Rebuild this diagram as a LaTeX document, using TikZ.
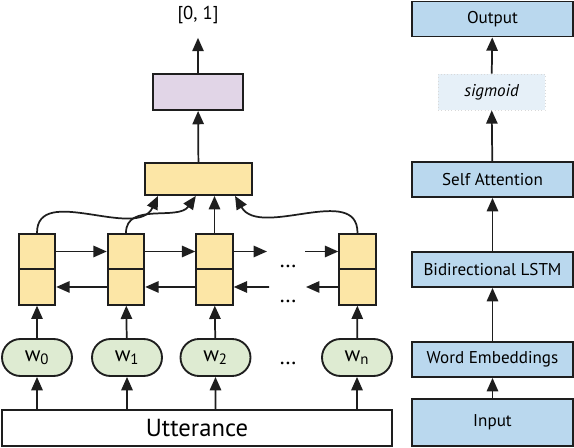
\documentclass[tikz,border=0pt]{standalone}
\usepackage{fontspec}
\setmainfont{PT Sans}
\usetikzlibrary{arrows.meta, shapes.misc}
\usepackage{xcolor}
\definecolor{myellow}{RGB}{252,230,166}
\definecolor{mpurple}{RGB}{225,213,231}
\definecolor{mgreen}{RGB}{222,235,210}
\definecolor{mblue}{RGB}{186,216,238}
\definecolor{mpale}{RGB}{230,240,248}
\definecolor{mline}{RGB}{30,30,30}

\begin{document}
\begin{tikzpicture}[x=0.75pt, y=-0.75pt,
    box/.style={draw=mline, line width=1.4pt, inner sep=0pt},
    cell/.style={box, fill=myellow, minimum width=27.4pt, minimum height=26.6pt, node distance=26.6pt},
    word/.style={box, rounded rectangle, fill=mgreen, minimum width=52.5pt, minimum height=27.75pt,
                 font=\fontsize{16}{19}\selectfont},
    layer/.style={box, fill=mblue, minimum width=120.75pt, minimum height=26.25pt,
                  font=\fontsize{12.8}{15}\selectfont},
    sigbox/.style={fill=mpale, draw=black!15, dotted, line width=0.5pt, minimum width=80.25pt,
                   minimum height=27pt, font=\fontsize{12.8}{15}\selectfont\itshape},
    dots/.style={anchor=base, font=\fontsize{17}{19}\selectfont},
    arrow/.style={-{Triangle[length=10pt,width=8.5pt]}, line width=1.3pt, mline},
]
\useasboundingbox (0,0) rectangle (574,448);

% left: the network
\node[box, minimum width=292.5pt, minimum height=27pt, font=\fontsize{18.5}{21}\selectfont] (utt) at (197,428) {Utterance};

\node[word] (w0) at (37,357.5) {w\textsubscript{0}};
\node[word] (w1) at (127,357.5) {w\textsubscript{1}};
\node[word] (w2) at (215.5,357.5) {w\textsubscript{2}};
\node[word] (wn) at (357,357.5) {w\textsubscript{n}};
\node[dots] (wdots) at (288,365) {\dots};

\node[cell] (c0f) at (37,251.5) {};
\node[cell, below of=c0f] (c0b) {};
\node[cell] (c1f) at (126,251.5) {};
\node[cell, below of=c1f] (c1b) {};
\node[cell] (c2f) at (214.5,251.5) {};
\node[cell, below of=c2f] (c2b) {};
\node[cell] (cnf) at (357.5,251.5) {};
\node[cell, below of=cnf] (cnb) {};
\node[dots] (fdots) at (288,268) {\dots};
\node[dots] (bdots) at (288,303) {\dots};

\node[box, fill=myellow, minimum width=80.25pt, minimum height=24pt] (att) at (198.5,179) {};
\node[box, fill=mpurple, minimum width=67.5pt, minimum height=27pt] (cls) at (198,92) {};
\node[font=\fontsize{14}{17}\selectfont] (score) at (198,15) {[0, 1]};

\coordinate (fwdend) at (267,251.5);
\coordinate (fwdstart) at (305,251.5);
\coordinate (bwdstart) at (269,287);
\coordinate (bwdend) at (306,287);

\draw[arrow] (utt.north -| w0) -- (w0);
\draw[arrow] (utt.north -| w1) -- (w1);
\draw[arrow] (utt.north -| w2) -- (w2);
\draw[arrow] (utt.north -| wn) -- (wn);

\draw[arrow] (w0) -- (c0b);
\draw[arrow] (w1) -- (c1b);
\draw[arrow] (w2) -- (c2b);
\draw[arrow] (wn) -- (cnb);

\draw[arrow] (c0f) -- (c1f);
\draw[arrow] (c1f) -- (c2f);
\draw[arrow] (c2f) -- (fwdend);
\draw[arrow] (fwdstart) -- (cnf);

\draw[arrow] (c1b) -- (c0b);
\draw[arrow] (c2b) -- (c1b);
\draw[arrow] (bwdstart) -- (c2b);
\draw[arrow] (cnb) -- (bwdend);

\draw[arrow] (c0f.north) to[out=90, in=-115] ([xshift=-30.4pt]att.south);
\draw[arrow] (c1f.north) to[out=90, in=-125] ([xshift=-2pt]att.south);
\draw[arrow] (c2f.north) -- (c2f.north |- att.south);
\draw[arrow] (cnf.north) to[out=90, in=-60] ([xshift=27.4pt]att.south);

\draw[arrow] (att) -- (cls);
\draw[arrow, shorten >=7pt] (cls) -- (score);

% right: the layers
\node[layer, minimum height=35.25pt] (inp) at (492.5,422.5) {Input};
\node[layer] (emb) at (492.5,359.5) {Word Embeddings};
\node[layer] (lstm) at (492.5,269.5) {Bidirectional LSTM};
\node[layer] (selfatt) at (492.5,179.5) {Self Attention};
\node[sigbox] (sig) at (491.5,92) {sigmoid};
\node[layer] (outp) at (492.5,19) {Output};

\draw[arrow] (inp) -- (emb);
\draw[arrow] (emb) -- (lstm);
\draw[arrow] (lstm) -- (selfatt);
\draw[arrow] (selfatt) -- (sig);
\draw[arrow] (sig) -- (outp);

\end{tikzpicture}
\end{document}
